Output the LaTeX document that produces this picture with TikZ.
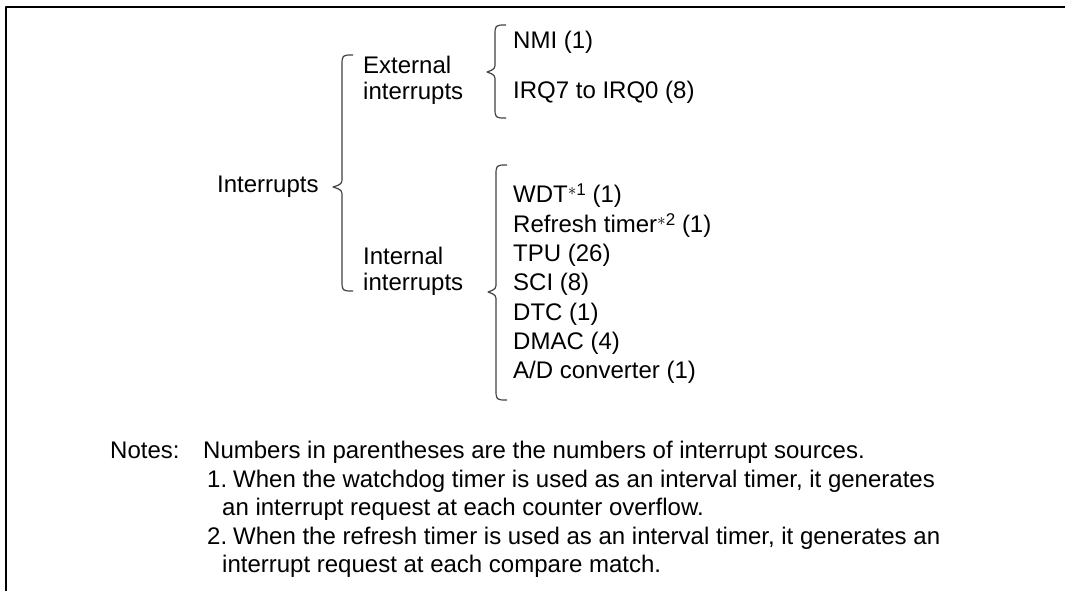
\documentclass[tikz,border=0pt]{standalone}
\usepackage{fontspec}
\setmainfont{Liberation Sans}
\newcommand{\fnmark}[1]{\raisebox{7pt}{\fontsize{17}{17}\selectfont$\ast$#1}}
\begin{document}
\begin{tikzpicture}[x=1pt,y=-1pt,line join=round,
  every node/.style={font=\fontsize{24}{26}\selectfont,inner sep=0pt,anchor=west,align=left},
  noteline/.style={anchor=base west},
  brace/.style={line width=1.2pt,black!75}]
  \useasboundingbox (0,0) rectangle (1065,591);
  % frame
  \draw[line width=2.2pt] (6,591) -- (6,7) -- (1065,7);
  % tree
  \node (intr) at (217,187) {Interrupts};
  \node (ext) at (363,80) {External\\interrupts};
  \node (int) at (363,271) {Internal\\interrupts};
  \node (nmi) at (513,42) {NMI (1)};
  \node (irq) at (513,92) {IRQ7 to IRQ0 (8)};
  \node[font=\fontsize{24}{29.3}\selectfont] (ilist) at (513,284) {WDT\fnmark{1} (1)\\Refresh timer\fnmark{2} (1)\\TPU (26)\\SCI (8)\\DTC (1)\\DMAC (4)\\A/D converter (1)};
  % braces
  \draw[brace] (353,55) .. controls (342,55) .. (342,66) -- (342,177) .. controls (342,184) .. (333,187) .. controls (342,190) .. (342,197) -- (342,280) .. controls (342,291) .. (353,291);
  \draw[brace] (506,25) .. controls (495,25) .. (495,36) -- (495,62) .. controls (495,69) .. (487,72) .. controls (495,75) .. (495,82) -- (495,107) .. controls (495,118) .. (506,118);
  \draw[brace] (507,165) .. controls (496,165) .. (496,176) -- (496,282) .. controls (496,289) .. (488,292) .. controls (496,295) .. (496,302) -- (496,389) .. controls (496,400) .. (507,400);
  % notes
  \node[noteline] (notes) at (110,458.5) {Notes:};
  \node[noteline] (note0) at (203,458.5) {Numbers in parentheses are the numbers of interrupt sources.};
  \node[noteline] (num1) at (207,487) {1.};
  \node[noteline] (note1a) at (233,487) {When the watchdog timer is used as an interval timer, it generates};
  \node[noteline] (note1b) at (222,515.5) {an interrupt request at each counter overflow.};
  \node[noteline] (num2) at (207,544) {2.};
  \node[noteline] (note2a) at (233,544) {When the refresh timer is used as an interval timer, it generates an};
  \node[noteline] (note2b) at (222,572.5) {interrupt request at each compare match.};
\end{tikzpicture}
\end{document}
